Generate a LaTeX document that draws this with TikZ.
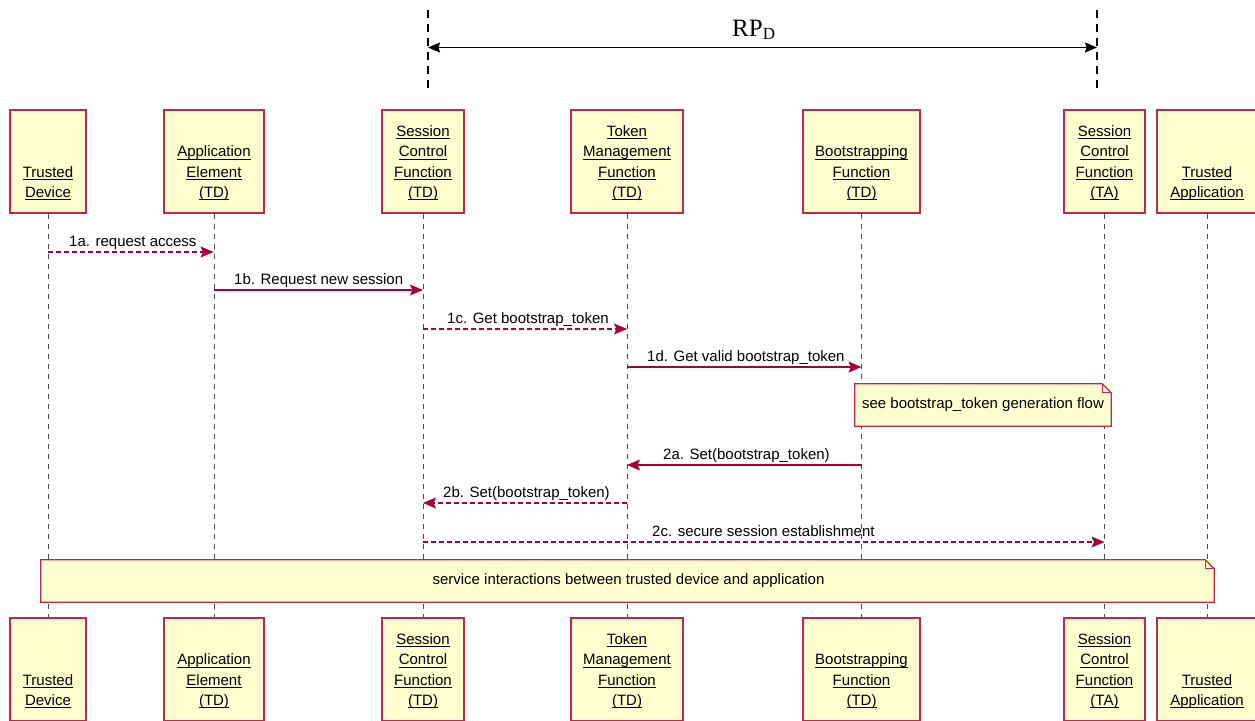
\documentclass[tikz,border=0pt]{standalone}
\usepackage{fontspec}
\setmainfont{Liberation Sans}
\newfontfamily\rpfont{Liberation Serif}
\usetikzlibrary{arrows.meta,backgrounds}
\definecolor{umlred}{HTML}{A80036}
\definecolor{umlborder}{RGB}{188,40,78}
\definecolor{umlfill}{HTML}{FEFECE}
\newcommand\ulx[1]{\setbox0\hbox{#1}\rlap{\rule[-2.6pt]{\wd0}{0.7pt}}\box0}
\newcommand\participant[5]{%
  \node[pbox, minimum width=#3] (#1-top) at (#2,161.5) {};
  \node[ptext] (#1-toptxt) at (#2,201.5) {#4};
  \node[pbox, minimum width=#3] (#1-bot) at (#2,669.5) {};
  \node[ptext] (#1-bottxt) at (#2,709.5) {#4};
  \begin{scope}[on background layer]
    \draw[lifeline] (#1-top.south) -- (#1-bot.north);
  \end{scope}
}
\tikzset{
  pbox/.style={draw=umlborder, fill=umlfill, line width=1.2pt, minimum height=103pt, inner sep=0pt},
  ptext/.style={anchor=south, align=center, inner sep=0pt, text depth=4pt,
    font=\fontsize{15}{20.3}\selectfont},
  lifeline/.style={draw=black!70, line width=0.8pt, dash pattern=on 5pt off 5pt},
  umltip/.style={-{Stealth[length=13pt,width=11pt,inset=2.5pt]}},
  msgsolid/.style={draw=umlred, line width=1.2pt, umltip},
  msgdash/.style={msgsolid, dash pattern=on 5pt off 3pt},
  msglbl/.style={anchor=base west, inner sep=0pt, font=\fontsize{15}{18}\selectfont},
  notetxt/.style={inner sep=0pt, font=\fontsize{15}{18}\selectfont},
  noteshape/.style={draw=umlborder, fill=umlfill, line width=1.2pt},
  rpline/.style={draw=black, line width=1.1pt, dash pattern=on 8pt off 6pt},
  rpspan/.style={line width=1.6pt, {Stealth[length=12pt,width=10pt,inset=1.5pt]}-{Stealth[length=12pt,width=10pt,inset=1.5pt]}},
}
\begin{document}
\begin{tikzpicture}[x=1pt,y=-1pt]
\useasboundingbox (0,0) rectangle (1255,720);
\clip (0,0) rectangle (1255,720);

% participants
\participant{td}{48}{76}{\ulx{Trusted}\\\ulx{Device}}{}
\participant{ae}{214}{100}{\ulx{Application}\\\ulx{Element}\\\ulx{(TD)}}{}
\participant{scf}{423}{82}{\ulx{Session}\\\ulx{Control}\\\ulx{Function}\\\ulx{(TD)}}{}
\participant{tmf}{627}{112}{\ulx{Token}\\\ulx{Management}\\\ulx{Function}\\\ulx{(TD)}}{}
\participant{bf}{861.5}{117}{\ulx{Bootstrapping}\\\ulx{Function}\\\ulx{(TD)}}{}
\participant{sca}{1104.5}{81}{\ulx{Session}\\\ulx{Control}\\\ulx{Function}\\\ulx{(TA)}}{}
\participant{ta}{1207}{100}{\ulx{Trusted}\\\ulx{Application}}{}

% RP_D span
\coordinate (rpL1) at (428,10);
\coordinate (rpL2) at (428,90);
\coordinate (rpR1) at (1097,10);
\coordinate (rpR2) at (1097,90);
\coordinate (rpA) at (428,47.5);
\coordinate (rpB) at (1097,47.5);
\draw[rpline] (rpL1) -- (rpL2);
\draw[rpline] (rpR1) -- (rpR2);
\draw[rpspan] (rpA) -- (rpB);
\node[inner sep=0pt, anchor=base west, font=\rpfont\fontsize{25}{28}\selectfont] (rplbl) at (732,36) {RP\textsubscript{\fontsize{17}{18}\selectfont D}};

% messages
\coordinate (m1as) at (48,252);  \coordinate (m1ae) at (213.5,252);
\coordinate (m1bs) at (214,290); \coordinate (m1be) at (423,290);
\coordinate (m1cs) at (423,329); \coordinate (m1ce) at (627,329);
\coordinate (m1ds) at (627,367); \coordinate (m1de) at (861.5,367);
\coordinate (m2as) at (861.5,465); \coordinate (m2ae) at (627,465);
\coordinate (m2bs) at (627,503); \coordinate (m2be) at (423,503);
\coordinate (m2cs) at (423,542); \coordinate (m2ce) at (1104.5,542);

\draw[msgdash] (m1as) -- (m1ae);
\node[msglbl] (l1a) at (69,246) {1a. request access};
\draw[msgsolid] (m1bs) -- (m1be);
\node[msglbl] (l1b) at (234,284) {1b. Request new session};
\draw[msgdash] (m1cs) -- (m1ce);
\node[msglbl] (l1c) at (447,323) {1c. Get bootstrap\_token};
\draw[msgsolid] (m1ds) -- (m1de);
\node[msglbl] (l1d) at (647,361) {1d. Get valid bootstrap\_token};
\draw[msgsolid] (m2as) -- (m2ae);
\node[msglbl] (l2a) at (663,459) {2a. Set(bootstrap\_token)};
\draw[msgdash] (m2bs) -- (m2be);
\node[msglbl] (l2b) at (443,497) {2b. Set(bootstrap\_token)};
\draw[msgdash] (m2cs) -- (m2ce);
\node[msglbl] (l2c) at (652,536) {2c. secure session establishment};

% note: bootstrap generation
\node[notetxt, minimum width=256pt, minimum height=42pt] (note1) at (983,405) {see bootstrap\_token generation flow};
\begin{scope}[on background layer]
\fill[umlfill] (note1.north west) rectangle (note1.south east);
\end{scope}
\draw[noteshape, fill=none] (note1.north west) -- ([xshift=-9pt]note1.north east) -- ([yshift=-9pt]note1.north east) -- (note1.south east) -- (note1.south west) -- cycle;
\draw[draw=umlborder, line width=1pt] ([xshift=-9pt]note1.north east) -- ([xshift=-9pt,yshift=-9pt]note1.north east) -- ([yshift=-9pt]note1.north east);

% note: service interactions (covers lifelines)
\node[notetxt, minimum width=1173pt, minimum height=42pt] (note2) at (627.5,581) {};
\fill[umlfill] (note2.north west) rectangle (note2.south east);
\draw[noteshape, fill=none] (note2.north west) -- ([xshift=-9pt]note2.north east) -- ([yshift=-9pt]note2.north east) -- (note2.south east) -- (note2.south west) -- cycle;
\draw[draw=umlborder, line width=1pt] ([xshift=-9pt]note2.north east) -- ([xshift=-9pt,yshift=-9pt]note2.north east) -- ([yshift=-9pt]note2.north east);
\node[notetxt] (note2txt) at (628.5,581) {service interactions between trusted device and application};
\end{tikzpicture}
\end{document}
